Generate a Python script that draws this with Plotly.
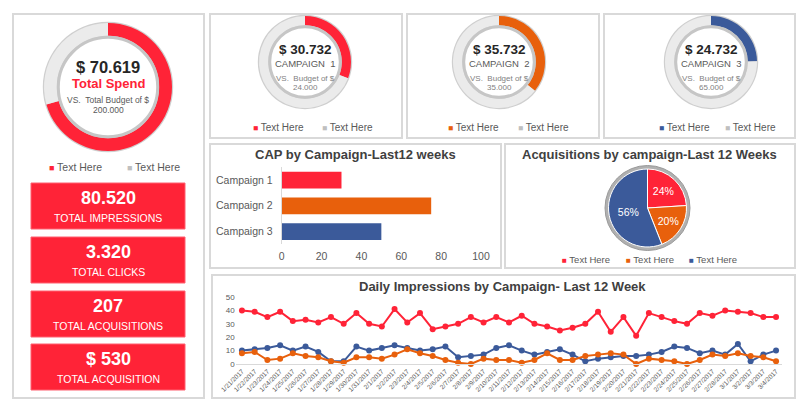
import plotly.graph_objects as go

W, H = 812, 408
def X(px): return px / W
def Y(py): return 1 - py / H

RED = "#FF2337"; ORANGE = "#E8600C"; BLUE = "#3B5A9A"; RINGGRAY = "#EBEBEB"
TXT = "#595959"; DARK = "#404040"
FONT = "Liberation Sans, Arial, sans-serif"

# ---------------- data ----------------
total_spend_label = "$ 70.619"
total_spend_pct = 70.619
total_budget_label = "200.000"
campaign_names = ["CAMPAIGN  1", "CAMPAIGN  2", "CAMPAIGN  3"]
campaign_spend_labels = ["$ 30.732", "$ 35.732", "$ 24.732"]
campaign_spend_pct = [30.732, 35.732, 24.732]
campaign_budget_labels = ["24.000", "35.000", "65.000"]
campaign_colors = [RED, ORANGE, BLUE]
kpi_values = ["80.520", "3.320", "207", "$ 530"]
kpi_labels = ["TOTAL IMPRESSIONS", "TOTAL CLICKS", "TOTAL ACQUISITIONS", "TOTAL ACQUISITION"]
cap_categories = ["Campaign 1", "Campaign 2", "Campaign 3"]
cap_values = [30, 75, 50]
acq_labels = ["Text Here", "Text Here", "Text Here"]
acq_share = [24, 20, 56]
dates = ["1/21/2017", "1/22/2017", "1/23/2017", "1/24/2017", "1/25/2017", "1/26/2017",
         "1/27/2017", "1/28/2017", "1/29/2017", "1/30/2017", "1/31/2017", "2/1/2017",
         "2/2/2017", "2/3/2017", "2/4/2017", "2/5/2017", "2/6/2017", "2/7/2017",
         "2/8/2017", "2/9/2017", "2/10/2017", "2/11/2017", "2/12/2017", "2/13/2017",
         "2/14/2017", "2/15/2017", "2/16/2017", "2/17/2017", "2/18/2017", "2/19/2017",
         "2/20/2017", "2/21/2017", "2/22/2017", "2/23/2017", "2/24/2017", "2/25/2017",
         "2/26/2017", "2/27/2017", "2/28/2017", "3/1/2017", "3/2/2017", "3/3/2017",
         "3/4/2017"]
imp_campaign1 = [40, 39, 35, 39, 32, 33, 31, 35, 30, 38, 30, 28, 41, 31, 38, 26, 28, 30,
                 35, 31, 35, 31, 36, 30, 28, 25, 27, 30, 39, 24, 35, 21, 38, 35, 32, 30,
                 38, 36, 40, 39, 38, 35, 35]
imp_campaign2 = [8, 9, 3, 4, 8, 6, 5, 2, 1, 5, 5, 4, 7, 11, 8, 6, 3, 1, 0, 4, 3, 3, 1, 3,
                 8, 3, 3, 6, 7, 8, 7, 0, 4, 3, 2, 0, 3, 7, 6, 8, 6, 5, 2]
imp_campaign3 = [10, 11, 12, 14, 10, 13, 9, 2, 2, 13, 10, 12, 14, 12, 10, 11, 13, 5, 6, 7,
                 12, 14, 10, 7, 9, 11, 7, 2, 4, 5, 6, 6, 7, 9, 13, 12, 8, 10, 7, 15, 2, 7, 10]

fig = go.Figure()
shapes = []
annotations = []

def rect(x0, y0, x1, y1, fill="white", line="#D9D9D9", lw=2, layer="below"):
    shapes.append(dict(type="rect", xref="paper", yref="paper", x0=X(x0), x1=X(x1),
                       y0=Y(y1), y1=Y(y0), fillcolor=fill,
                       line=dict(color=line, width=lw), layer=layer))

def circle(cx, cy, r, fill, line="rgba(0,0,0,0)", lw=0, layer="below"):
    shapes.append(dict(type="circle", xref="paper", yref="paper", x0=X(cx - r), x1=X(cx + r),
                       y0=Y(cy + r), y1=Y(cy - r), fillcolor=fill,
                       line=dict(color=line, width=lw), layer=layer))

def text(x, y, s, size, color=TXT, bold=False, xanchor="center"):
    if bold:
        s = "<b>" + s + "</b>"
    annotations.append(dict(xref="paper", yref="paper", x=X(x), y=Y(y), text=s,
                            showarrow=False, xanchor=xanchor, yanchor="middle",
                            font=dict(family=FONT, size=size, color=color)))

def legend_item(x, y, color, label, size=10.5):
    s = '<span style="color:%s;font-size:%.1fpx">■</span> %s' % (color, size * 0.85, label)
    text(x, y, s, size, TXT)

def donut(cx, cy, r, pct, color, hole):
    circle(cx, cy, r + 1.2, "#CFCFCF")
    fig.add_trace(go.Pie(values=[pct, 100 - pct], marker=dict(colors=[color, RINGGRAY],
                         line=dict(width=0)), hole=hole, sort=False, direction="clockwise",
                         rotation=0, textinfo="none", hoverinfo="skip", showlegend=False,
                         domain=dict(x=[X(cx - r), X(cx + r)], y=[Y(cy + r), Y(cy - r)])))
    ri = r * hole
    circle(cx, cy, ri - 1.5, "white", line="#C6C6C6", lw=3, layer="above")

# ---------------- panels ----------------
rect(13, 14, 204, 398)
rect(210, 14, 402, 138)
rect(407, 14, 599, 138)
rect(604, 14, 795, 138)
rect(210, 144, 501, 268)
rect(505, 144, 795, 268)
rect(212, 275, 795, 398)

# ---------------- big donut ----------------
donut(108, 87, 64, total_spend_pct, RED, 0.8)
text(108, 67, total_spend_label, 16.5, "#262626", bold=True)
text(108, 84, "Total Spend", 13, RED, bold=True)
text(108, 100, "VS.  Total Budget of $", 8.5, TXT)
text(108, 110, total_budget_label, 8.5, TXT)
legend_item(75, 167, RED, "Text Here", 10.5)
legend_item(153, 167, "#BFBFBF", "Text Here", 10.5)

# ---------------- KPI boxes ----------------
kpi_tops = [183, 237, 291, 344]
for top, v, lab in zip(kpi_tops, kpi_values, kpi_labels):
    rect(31, top, 185, top + 46, fill=RED, line="#FF6070", lw=1)
    text(108, top + 15, v, 18, "white", bold=True)
    text(108, top + 35, lab, 10.5, "white")

# ---------------- campaign donuts ----------------
centers = [305, 499, 711]
leg_x = [(278, 347), (473, 543), (684, 750)]
for cx, pct, col, nm, sp, bud, lx in zip(centers, campaign_spend_pct, campaign_colors,
                                         campaign_names, campaign_spend_labels,
                                         campaign_budget_labels, leg_x):
    donut(cx, 62, 46, pct, col, 0.8)
    text(cx, 49, sp, 13.5, "#262626", bold=True)
    text(cx, 63, nm, 9.5, TXT)
    text(cx, 78, "VS.  Budget of $", 8, "#7F7F7F")
    text(cx, 87, bud, 8, "#7F7F7F")
    legend_item(lx[0], 127, col, "Text Here", 10)
    legend_item(lx[1], 127, "#BFBFBF", "Text Here", 10)

# ---------------- CAP bar chart ----------------
fig.add_trace(go.Bar(x=cap_values, y=cap_categories, orientation="h",
                     marker=dict(color=campaign_colors, line=dict(width=0)), width=0.65,
                     xaxis="x", yaxis="y", showlegend=False, hoverinfo="skip"))
text(355, 154, "CAP by Campaign-Last12 weeks", 13, DARK, bold=True)

# ---------------- Acquisition pie ----------------
circle(647.5, 208, 42.5, "#B0B0B0", line="#9A9A9A", lw=1)
pr = 39
fig.add_trace(go.Pie(values=acq_share, labels=["C1", "C2", "C3"],
                     marker=dict(colors=campaign_colors, line=dict(color="white", width=1)),
                     sort=False, direction="clockwise", rotation=0, textinfo="percent",
                     textposition="inside", insidetextorientation="horizontal",
                     textfont=dict(family=FONT, size=10.5, color="white"),
                     hoverinfo="skip", showlegend=False,
                     domain=dict(x=[X(647.5 - pr), X(647.5 + pr)], y=[Y(208 + pr), Y(208 - pr)])))
text(649, 154, "Acquisitions by campaign-Last 12 Weeks", 13, DARK, bold=True)
for lx, col, lab in zip([586, 650, 713], campaign_colors, acq_labels):
    legend_item(lx, 259, col, lab, 9.5)

# ---------------- Daily impressions line chart ----------------
for ys, col in [(imp_campaign1, RED), (imp_campaign3, BLUE), (imp_campaign2, ORANGE)]:
    fig.add_trace(go.Scatter(x=dates, y=ys, mode="lines+markers", xaxis="x2", yaxis="y2",
                             line=dict(color=col, width=2), marker=dict(color=col, size=6),
                             cliponaxis=False, showlegend=False, hoverinfo="skip"))
text(502, 286, "Daily Impressions by Campaign- Last 12 Week", 13, DARK, bold=True)

fig.update_layout(
    template="none",
    width=W, height=H, autosize=False,
    margin=dict(l=0, r=0, t=0, b=0, pad=0, autoexpand=False),
    paper_bgcolor="white", plot_bgcolor="rgba(0,0,0,0)",
    font=dict(family=FONT, color=TXT),
    shapes=shapes, annotations=annotations,
    xaxis=dict(domain=[X(281.7), X(481)], range=[0, 100], tickvals=[0, 20, 40, 60, 80, 100],
               showgrid=False, zeroline=False, showline=False, ticks="", automargin=False,
               tickfont=dict(size=10.5, color=TXT), ticklabelstandoff=4, anchor="y"),
    yaxis=dict(domain=[Y(244.4), Y(167.2)], categoryorder="array",
               categoryarray=cap_categories, autorange="reversed", showgrid=False,
               zeroline=False, showline=True, linecolor="#D9D9D9", linewidth=1, ticks="",
               automargin=False,
               tickfont=dict(size=10.5, color=TXT), ticklabelstandoff=6, anchor="x"),
    xaxis2=dict(domain=[X(235.6), X(782.4)], type="category", range=[-0.5, 42.5],
                showgrid=False, zeroline=False, showline=True, linecolor="#D9D9D9",
                linewidth=1, ticks="", tickangle=-45, tickfont=dict(size=6.5, color=TXT),
                automargin=False, anchor="y2"),
    yaxis2=dict(domain=[Y(364), Y(297)], range=[0, 50], tickvals=[0, 10, 20, 30, 40, 50],
                showgrid=False, zeroline=False, showline=False, ticks="", automargin=False,
                tickfont=dict(size=8, color=TXT), anchor="x2"),
)

fig.write_html("out.html")
